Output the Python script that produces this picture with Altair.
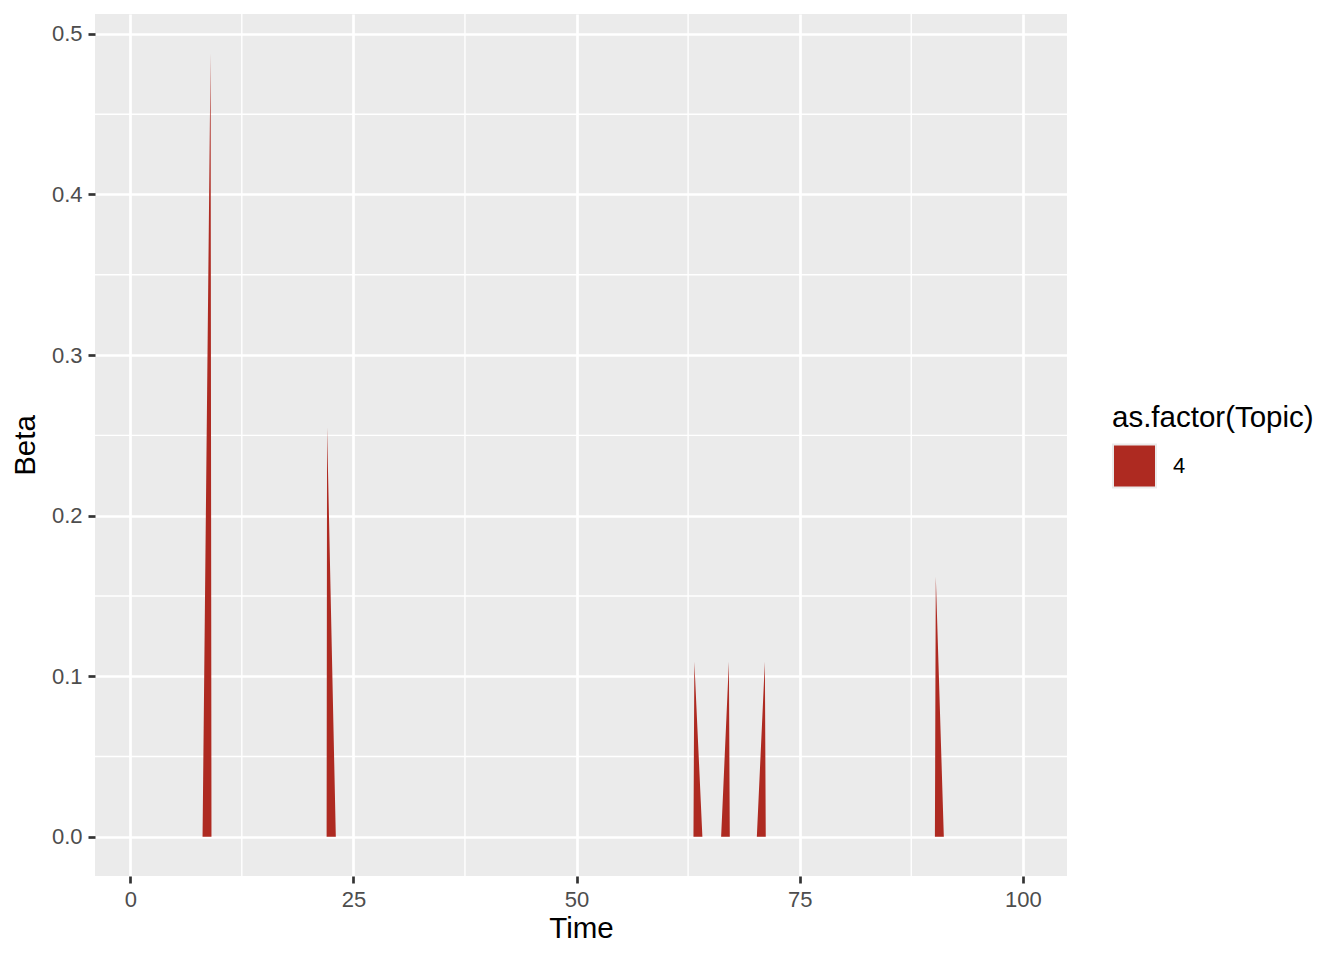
import altair as alt
import pandas as pd

# Area series (Time, Beta) for topic 4
time_vals = [1.0, 8.1, 9.0, 9.1, 22.0, 22.05, 23.03, 63.1, 63.2, 64.1,
             66.2, 67.07, 67.17, 70.2, 71.1, 71.2, 90.15, 90.25, 91.15, 100.0]
beta_vals = [0.0, 0.0, 0.488, 0.0, 0.0, 0.255, 0.0, 0.0, 0.109, 0.0,
             0.0, 0.109, 0.0, 0.0, 0.109, 0.0, 0.0, 0.162, 0.0, 0.0]
topic_vals = ["4"] * len(time_vals)

x_ticks = [0, 25, 50, 75, 100]
x_minor = [12.5, 37.5, 62.5, 87.5]
y_ticks = [0.0, 0.1, 0.2, 0.3, 0.4, 0.5]
y_minor = [0.05, 0.15, 0.25, 0.35, 0.45]

x_domain = [-3.95, 104.95]
y_domain = [-0.0244, 0.5124]

df = pd.DataFrame({"Time": time_vals, "Beta": beta_vals, "Topic": topic_vals})
xminor_df = pd.DataFrame({"Time": x_minor})
yminor_df = pd.DataFrame({"Beta": y_minor})

FONT = "Liberation Sans"
LABEL = 22
TITLE = 29.5
xs = alt.Scale(domain=x_domain, nice=False, zero=False)
ys = alt.Scale(domain=y_domain, nice=False, zero=False)

common = dict(grid=True, gridColor="white", gridWidth=2.7, domain=False,
              tickColor="#333333", tickSize=7, tickWidth=2.7,
              labelFontSize=LABEL, labelColor="#4D4D4D", labelFont=FONT,
              titleFontSize=TITLE, titleColor="black", titleFontWeight="normal",
              titleFont=FONT)
x_axis = alt.Axis(values=x_ticks, format="d", labelPadding=6, titlePadding=4, **common)
y_axis = alt.Axis(values=y_ticks, format=".1f", labelPadding=6,
                  titleX=-70, titleY=431, titleAngle=270, titleBaseline="middle",
                  titleAlign="center", **common)

xminor = alt.Chart(xminor_df).mark_rule(color="white", strokeWidth=1.4).encode(
    x=alt.X("Time:Q", scale=xs, title="Time", axis=x_axis)
)
yminor = alt.Chart(yminor_df).mark_rule(color="white", strokeWidth=1.4).encode(
    y=alt.Y("Beta:Q", scale=ys, title="Beta", axis=y_axis)
)

area = alt.Chart(df).mark_area(interpolate="linear").encode(
    x=alt.X("Time:Q", scale=xs, title="Time", axis=x_axis),
    y=alt.Y("Beta:Q", scale=ys, title="Beta", stack=None, axis=y_axis),
    color=alt.Color("Topic:N", title="as.factor(Topic)",
                    scale=alt.Scale(domain=["4"], range=["#AE2A21"]),
                    legend=alt.Legend(orient="none", legendX=1017, legendY=390,
                                      symbolType="square", symbolSize=1849,
                                      symbolStrokeColor="#EBEBEB", symbolStrokeWidth=2,
                                      symbolOpacity=1, padding=0, titleLimit=400,
                                      titleFontSize=TITLE, titleFont=FONT,
                                      titleFontWeight="normal", titleColor="black",
                                      titlePadding=10, labelFontSize=LABEL,
                                      labelFont=FONT, labelColor="black",
                                      labelOffset=16)),
)

chart = alt.layer(xminor, yminor, area).properties(
    width=972, height=862,
    background="white",
    autosize=alt.AutoSizeParams(type="none"),
    padding={"left": 87, "top": 6, "right": 269, "bottom": 76},
).configure_view(fill="#EBEBEB", stroke=None)

chart.save("out.html", embed_options={"renderer": "svg", "actions": False})
